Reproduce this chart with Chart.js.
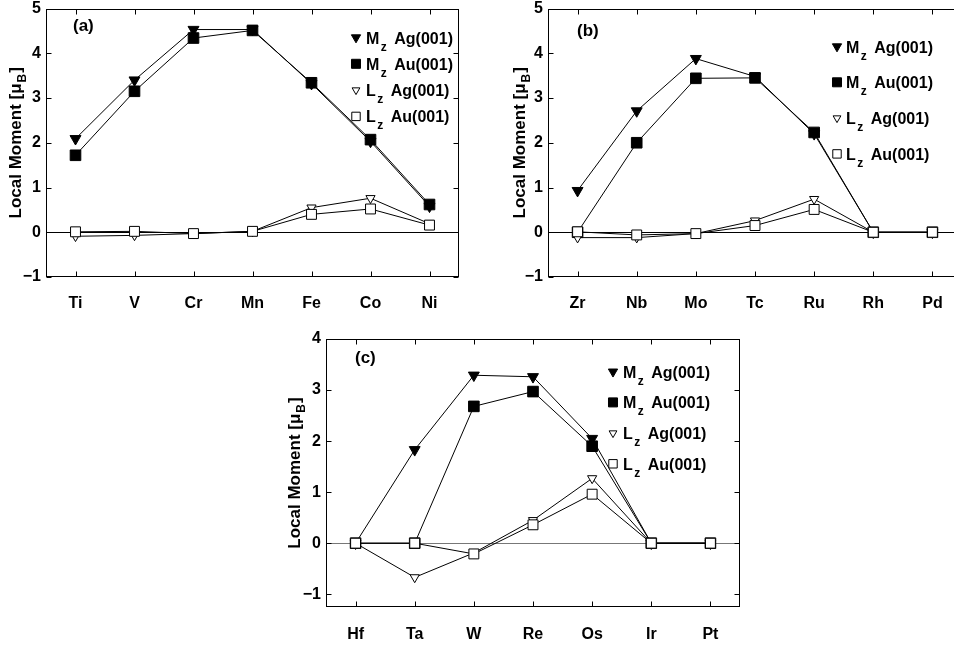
<!DOCTYPE html>
<html>
<head>
<meta charset="utf-8">
<script src="https://cdn.jsdelivr.net/npm/chart.js@4.4.1/dist/chart.umd.min.js"></script>
<style>
  html, body { margin: 0; padding: 0; background: #fff; overflow: hidden; }
  body { width: 954px; height: 645px; position: relative; }
  .panel { position: absolute; }
  canvas { display: block; }
</style>
</head>
<body>
<div class="panel" style="left:0px;top:0px"><canvas id="chartA" width="470" height="318"></canvas></div>
<div class="panel" style="left:475px;top:0px"><canvas id="chartB" width="500" height="318"></canvas></div>
<div class="panel" style="left:240px;top:320px"><canvas id="chartC" width="520" height="325"></canvas></div>
<script>
// data
const elementsA = ["Ti", "V", "Cr", "Mn", "Fe", "Co", "Ni"];
const mzAgA = [2.09, 3.40, 4.53, 4.53, 3.32, 2.03, 0.58];
const mzAuA = [1.72, 3.15, 4.34, 4.51, 3.34, 2.07, 0.62];
const lzAgA = [-0.09, -0.07, -0.03, 0.02, 0.55, 0.76, 0.19];
const lzAuA = [0.01, 0.02, -0.03, 0.02, 0.40, 0.52, 0.16];

const elementsB = ["Zr", "Nb", "Mo", "Tc", "Ru", "Rh", "Pd"];
const mzAgB = [0.93, 2.71, 3.88, 3.48, 2.20, 0, 0];
const mzAuB = [0.00, 2.00, 3.44, 3.45, 2.23, 0, 0];
const lzAgB = [-0.12, -0.12, -0.03, 0.26, 0.74, 0, 0];
const lzAuB = [0.01, -0.06, -0.03, 0.15, 0.51, 0, 0];

const elementsC = ["Hf", "Ta", "W", "Re", "Os", "Ir", "Pt"];
const mzAgC = [0, 1.83, 3.29, 3.26, 2.05, 0, 0];
const mzAuC = [0, 0, 2.68, 2.97, 1.90, 0, 0];
const lzAgC = [0, -0.67, -0.19, 0.45, 1.27, 0, 0];
const lzAuC = [0, 0, -0.21, 0.36, 0.96, 0, 0];

const yTicksAB = [-1, 0, 1, 2, 3, 4, 5];
const yTicksC = [-1, 0, 1, 2, 3, 4];

// legend text: [main, subscript, rest]
const seriesLabels = [
  ["M", "z", " Ag(001)"],
  ["M", "z", " Au(001)"],
  ["L", "z", " Ag(001)"],
  ["L", "z", " Au(001)"],
];
const yTitle = ["Local Moment [\u03bc", "B", "]"];

const FONT = '"Liberation Sans", Arial, Helvetica, sans-serif';
Chart.defaults.font.family = FONT;
Chart.defaults.color = "#000";

// marker styles for the four series (same order as seriesLabels)
const markers = [
  { pointStyle: "triangle", rotation: 180, radius: 6.3, fill: "#000" },
  { pointStyle: "rect", rotation: 0, radius: 7.5, fill: "#000" },
  { pointStyle: "triangle", rotation: 180, radius: 5.3, fill: "#fff" },
  { pointStyle: "rect", rotation: 0, radius: 7, fill: "#fff" },
];

// text with one subscript in the middle: gapA before it, gapB after it
function subText(ctx, parts, x, y, size, subSize, drop, align, gapA, gapB) {
  ctx.font = `bold ${size}px ${FONT}`;
  const w0 = ctx.measureText(parts[0]).width;
  const w2 = ctx.measureText(parts[2]).width;
  ctx.font = `bold ${subSize}px ${FONT}`;
  const w1 = ctx.measureText(parts[1]).width;
  let sx = x;
  if (align === "center") sx = x - (w0 + gapA + w1 + gapB + w2) / 2;
  ctx.font = `bold ${size}px ${FONT}`;
  ctx.fillText(parts[0], sx, y);
  ctx.font = `bold ${subSize}px ${FONT}`;
  ctx.fillText(parts[1], sx + w0 + gapA, y + drop);
  ctx.font = `bold ${size}px ${FONT}`;
  ctx.fillText(parts[2], sx + w0 + gapA + w1 + gapB, y);
}

// frame, inward ticks, panel label, legend and y title
const decorPlugin = {
  id: "decor",
  afterDraw(chart, args, o) {
    const { ctx, chartArea: a, scales } = chart;
    ctx.save();
    ctx.strokeStyle = "#000";
    ctx.lineWidth = 1;
    const L = Math.round(a.left) + 0.5, R = Math.round(a.right) - 0.5;
    const T = Math.round(a.top) + 0.5, B = Math.round(a.bottom) - 0.5;
    ctx.strokeRect(L, T, R - L, B - T);
    ctx.beginPath();
    o.yTicks.forEach((v) => {
      const py = Math.round(scales.y.getPixelForValue(v)) + 0.5;
      ctx.moveTo(L, py); ctx.lineTo(L + 5, py);
      ctx.moveTo(R, py); ctx.lineTo(R - 5, py);
    });
    scales.x.ticks.forEach((t, i) => {
      const px = Math.round(scales.x.getPixelForTick(i)) + 0.5;
      ctx.moveTo(px, B); ctx.lineTo(px, B - 5);
      ctx.moveTo(px, T); ctx.lineTo(px, T + 5);
    });
    ctx.stroke();

    ctx.fillStyle = "#000";
    ctx.textBaseline = "alphabetic";
    ctx.textAlign = "left";
    ctx.font = `bold 17px ${FONT}`;
    ctx.fillText(o.tag, a.left + o.tagX, a.top + o.tagY + 6);

    // legend
    seriesLabels.forEach((parts, i) => {
      const cy = a.top + o.legY + i * o.legStep;
      const m = markers[i];
      ctx.fillStyle = m.fill;
      ctx.strokeStyle = "#000";
      ctx.lineWidth = 1;
      Chart.helpers.drawPoint(ctx, {
        pointStyle: m.pointStyle, rotation: m.rotation,
        radius: m.radius * 0.85, borderWidth: 1,
      }, a.left + o.legMarkX, cy);
      ctx.fillStyle = "#000";
      subText(ctx, parts, a.left + o.legTextX, cy + 6, 16, 12, 7, "left", 1.5, 3);
    });

    // y axis title
    ctx.translate(a.left + o.titleX, (a.top + a.bottom) / 2);
    ctx.rotate(-Math.PI / 2);
    ctx.textBaseline = "middle";
    subText(ctx, yTitle, 0, 0, 17, 12, 7, "center", 1, 1);
    ctx.restore();
  },
};

function makePanel(id, labels, series, yMin, yMax, yTicks, p) {
  const datasets = series.map((vals, i) => ({
    data: vals,
    borderColor: "#000",
    borderWidth: 1,
    backgroundColor: markers[i].fill,
    pointStyle: markers[i].pointStyle,
    rotation: markers[i].rotation,
    pointRadius: markers[i].radius,
    pointBackgroundColor: markers[i].fill,
    pointBorderColor: "#000",
    pointBorderWidth: 1,
    tension: 0,
    fill: false,
    order: 3 - i,
  }));
  return new Chart(document.getElementById(id), {
    type: "line",
    data: { labels: labels, datasets: datasets },
    options: {
      responsive: false,
      animation: false,
      events: [],
      layout: { padding: { top: p.padTop, right: p.padRight, left: 0, bottom: 0 } },
      plugins: {
        legend: { display: false },
        tooltip: { enabled: false },
        decor: p,
      },
      scales: {
        x: {
          type: "category",
          offset: true,
          grid: { display: false, drawTicks: false },
          border: { display: false },
          ticks: {
            color: "#000", padding: p.xPad, maxRotation: 0, autoSkip: false,
            font: { size: 16, weight: "bold" },
          },
          afterFit(s) { s.height = p.xHeight; s.paddingLeft = 0; s.paddingRight = 0; },
        },
        y: {
          min: yMin,
          max: yMax,
          grid: {
            drawTicks: false,
            lineWidth: 1,
            color: (c) => (c.tick && c.tick.value === 0 ? p.zeroColor : "rgba(0,0,0,0)"),
          },
          border: { display: false },
          ticks: {
            color: "#000", padding: 5,
            font: { size: 16, weight: "bold" },
            callback: (v) => (v < 0 ? "\u2212" + Math.abs(v) : String(v)),
          },
          afterBuildTicks(s) { s.ticks = yTicks.map((v) => ({ value: v })); },
          afterFit(s) { s.width = p.yWidth; s.paddingTop = 0; s.paddingBottom = 0; },
        },
      },
    },
    plugins: [decorPlugin],
  });
}

makePanel("chartA", elementsA, [mzAgA, mzAuA, lzAgA, lzAuA], -1, 5, yTicksAB, {
  padTop: 7, padRight: 11, yWidth: 46, xHeight: 41, xPad: 17, zeroColor: "#000",
  yTicks: yTicksAB, tag: "(a)", tagX: 27, tagY: 16,
  legMarkX: 310, legTextX: 320, legY: 29, legStep: 26.3, titleX: -30,
});
makePanel("chartB", elementsB, [mzAgB, mzAuB, lzAgB, lzAuB], -1, 5, yTicksAB, {
  padTop: 7, padRight: 13, yWidth: 73, xHeight: 41, xPad: 17, zeroColor: "#000",
  yTicks: yTicksAB, tag: "(b)", tagX: 29, tagY: 21,
  legMarkX: 289, legTextX: 298, legY: 38, legStep: 35.8, titleX: -28,
});
makePanel("chartC", elementsC, [mzAgC, mzAuC, lzAgC, lzAuC], -1.25, 4, yTicksC, {
  padTop: 19, padRight: 20, yWidth: 86, xHeight: 38, xPad: 18, zeroColor: "#777",
  yTicks: yTicksC, tag: "(c)", tagX: 29, tagY: 18,
  legMarkX: 287, legTextX: 297, legY: 32.7, legStep: 30.7, titleX: -31,
});
</script>
</body>
</html>
